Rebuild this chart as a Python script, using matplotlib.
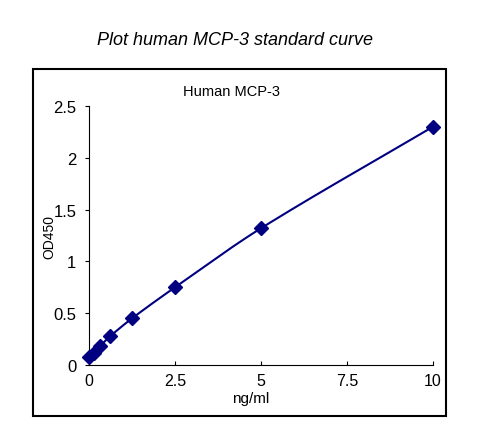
import numpy as np
import matplotlib
matplotlib.use("Agg")
import matplotlib.pyplot as plt
from matplotlib.patches import Rectangle

conc = [0, 0.156, 0.3125, 0.625, 1.25, 2.5, 5, 10]
od = [0.08, 0.12, 0.18, 0.28, 0.45, 0.75, 1.32, 2.30]
xticks = [0, 2.5, 5, 7.5, 10]
xticklabels = ["0", "2.5", "5", "7.5", "10"]
yticks = [0, 0.5, 1, 1.5, 2, 2.5]
yticklabels = ["0", "0.5", "1", "1.5", "2", "2.5"]

plt.rcParams['font.family'] = ['Liberation Sans', 'DejaVu Sans']
navy = '#000080'


def smooth_line(x, y, n=40):
    # smoothed connection through the points (like a spreadsheet smoothed line)
    x = np.asarray(x, float)
    y = np.asarray(y, float)
    px = np.concatenate([[2 * x[0] - x[1]], x, [2 * x[-1] - x[-2]]])
    py = np.concatenate([[2 * y[0] - y[1]], y, [2 * y[-1] - y[-2]]])
    ox, oy = [], []
    t = np.linspace(0, 1, n)
    for i in range(1, len(px) - 2):
        p0, p1, p2, p3 = (np.array([px[j], py[j]]) for j in range(i - 1, i + 3))
        m1 = (p2 - p0)
        m2 = (p3 - p1)
        seg = np.linalg.norm(p2 - p1)
        m1 = m1 / max(np.linalg.norm(m1), 1e-9) * seg
        m2 = m2 / max(np.linalg.norm(m2), 1e-9) * seg
        h00 = 2 * t**3 - 3 * t**2 + 1
        h10 = t**3 - 2 * t**2 + t
        h01 = -2 * t**3 + 3 * t**2
        h11 = t**3 - t**2
        pts = (np.outer(h00, p1) + np.outer(h10, m1) + np.outer(h01, p2) + np.outer(h11, m2))
        ox.extend(pts[:, 0])
        oy.extend(pts[:, 1])
    return np.array(ox), np.array(oy)


fig = plt.figure(figsize=(4.8, 4.31), dpi=100)
fig.patches.append(Rectangle((0.069, 0.033), 0.86, 0.805, transform=fig.transFigure,
                             fill=False, edgecolor='black', linewidth=1.5))
ax = fig.add_axes([0.1854, 0.1508, 0.7166, 0.6009])

sx, sy = smooth_line(conc, od)
ax.plot(sx, sy, color=navy, linewidth=1.5, clip_on=False)
ax.plot(conc, od, linestyle='none', marker='D', markersize=7.5, color=navy, clip_on=False, zorder=3)

ax.set_xlim(0, 10)
ax.set_ylim(0, 2.5)
ax.set_xticks(xticks)
ax.set_xticklabels(xticklabels)
ax.set_yticks(yticks)
ax.set_yticklabels(yticklabels)
ax.spines['top'].set_visible(False)
ax.spines['right'].set_visible(False)
ax.tick_params(axis='x', direction='in', length=3, pad=6, labelsize=11.5)
ax.tick_params(axis='y', direction='out', length=3, pad=6, labelsize=12)

fig.text(0.49, 0.907, "Plot human MCP-3 standard curve", ha='center', va='center',
         fontsize=13, style='italic')
fig.text(0.483, 0.786, "Human MCP-3", ha='center', va='center', fontsize=10.5)
fig.text(0.523, 0.074, "ng/ml", ha='center', va='center', fontsize=11)
fig.text(0.102, 0.45, "OD450", ha='center', va='center', fontsize=10, rotation=90)

fig.savefig("out.png", dpi=100)
